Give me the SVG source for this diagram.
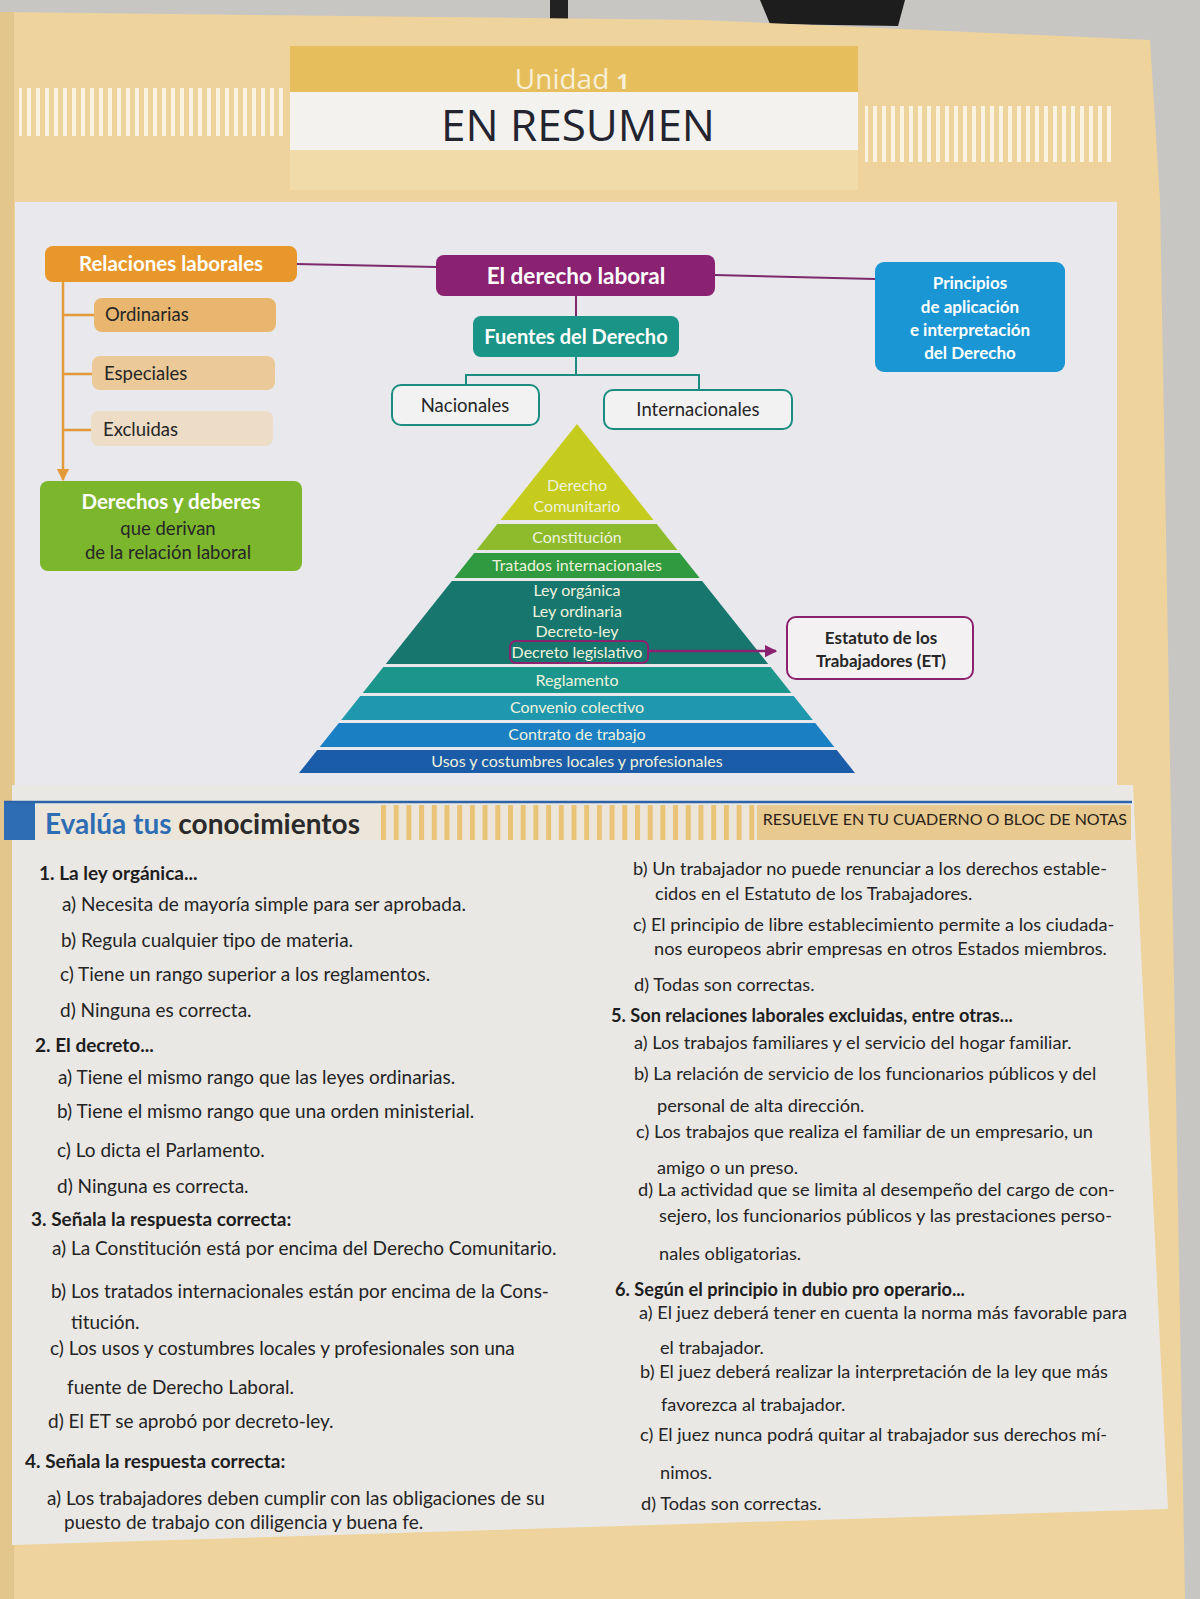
<svg xmlns="http://www.w3.org/2000/svg" width="1200" height="1599" viewBox="0 0 1200 1599">
  <style>
    .box-label { font-family: Lato, "Open Sans", sans-serif; font-weight: 700; fill: #ffffff; text-anchor: middle; }
    .plain { font-family: Lato, "Open Sans", sans-serif; fill: #262626; }
    .pyr { font-family: Lato, "Open Sans", sans-serif; font-size: 16px; fill: #eef2dc; text-anchor: middle; }
    .q { font-family: Lato, "Open Sans", sans-serif; font-size: 19px; fill: #242424; }
    .qh { font-family: Lato, "Open Sans", sans-serif; font-size: 19px; font-weight: 700; fill: #1e1e1e; }
    .qr { font-size: 18.2px; }
    .purple-line { stroke: #7d2a6c; stroke-width: 2; fill: none; }
    .teal-line { stroke: #1a8c80; stroke-width: 2; fill: none; }
    .orange-line { stroke: #e39a3a; stroke-width: 2.5; fill: none; }
  </style>
  <defs>
    <pattern id="whiteBars" width="9" height="10" patternUnits="userSpaceOnUse">
      <rect x="0" y="0" width="4" height="10" fill="#faf3e2"/>
    </pattern>
    <pattern id="goldBars" width="12.7" height="10" patternUnits="userSpaceOnUse">
      <rect x="0" y="0" width="5" height="10" fill="#e9c476"/>
    </pattern>
    <marker id="arrowOrange" viewBox="0 0 10 10" refX="9" refY="5" markerWidth="5" markerHeight="5" orient="auto" markerUnits="strokeWidth">
      <path d="M0,0 L10,5 L0,10 z" fill="#e39a3a"/>
    </marker>
    <marker id="arrowPurple" viewBox="0 0 10 10" refX="9" refY="5" markerWidth="5" markerHeight="6" orient="auto" markerUnits="strokeWidth">
      <path d="M0,0 L10,5 L0,10 z" fill="#8b2270"/>
    </marker>
  </defs>

  <!-- desk behind the page -->
  <rect x="0" y="0" width="1200" height="1599" fill="#c8c6c3"/>
  <rect x="550" y="0" width="18" height="22" fill="#222"/>
  <polygon points="760,0 905,0 898,26 770,24" fill="#1d1d1d"/>

  <!-- page -->
  <polygon points="0,12 700,20 1150,40 1160,200 1185,1599 0,1599" fill="#eed39c"/>
  <rect x="0" y="12" width="14" height="1587" fill="#e2c68c"/>

  <!-- header -->
  <rect x="290" y="46" width="568" height="50" fill="#e6bf5c"/>
  <rect x="290" y="92" width="568" height="58" fill="#f3f2ef"/>
  <rect x="290" y="150" width="568" height="40" fill="#f1dba8"/>
  <rect x="19" y="88" width="264" height="48" fill="url(#whiteBars)"/>
  <rect x="865" y="106" width="246" height="56" fill="url(#whiteBars)"/>
  <text x="572" y="89" font-family="'Open Sans', Lato, sans-serif" font-size="28" fill="#f7efd8" text-anchor="middle">Unidad <tspan font-weight="700" font-size="22">1</tspan></text>
  <text x="578" y="141" font-family="'Open Sans', Lato, sans-serif" font-size="44" fill="#242430" text-anchor="middle">EN RESUMEN</text>

  <!-- content panels -->
  <rect x="15" y="202" width="1102" height="583" fill="#e9e8ec"/>
  <polygon points="12,785 1133,785 1168,1509 12,1545" fill="#eae8e5"/>

  <!-- concept map nodes -->
  <g id="relaciones-laborales">
    <rect x="45" y="246" width="252" height="36" rx="8" fill="#e8972a"/>
    <text class="box-label" x="171" y="271" font-size="20.5">Relaciones laborales</text>
  </g>
  <g id="ordinarias">
    <rect x="94" y="298" width="182" height="34" rx="8" fill="#e8b66e"/>
    <text class="plain" x="105" y="321" font-size="18.5">Ordinarias</text>
  </g>
  <g id="especiales">
    <rect x="92" y="356" width="183" height="34" rx="8" fill="#ebc999"/>
    <text class="plain" x="104" y="380" font-size="18.5">Especiales</text>
  </g>
  <g id="excluidas">
    <rect x="91" y="411" width="182" height="35" rx="8" fill="#eddcc6"/>
    <text class="plain" x="103" y="436" font-size="18.5">Excluidas</text>
  </g>
  <g id="derechos-deberes">
    <rect x="40" y="481" width="262" height="90" rx="8" fill="#7cb62d"/>
    <text class="box-label" x="171" y="509" font-size="20.5">Derechos y deberes</text>
    <text class="plain" x="168" y="535" font-size="18.5" text-anchor="middle" fill="#1f2b1c">que derivan</text>
    <text class="plain" x="168" y="559" font-size="18.5" text-anchor="middle" fill="#1f2b1c">de la relación laboral</text>
  </g>
  <g id="derecho-laboral">
    <rect x="436" y="255" width="279" height="41" rx="8" fill="#8a2171"/>
    <text class="box-label" x="576" y="284" font-size="22.5">El derecho laboral</text>
  </g>
  <g id="principios">
    <rect x="875" y="262" width="190" height="110" rx="9" fill="#1a96d4"/>
    <text class="box-label" x="970" y="289" font-size="17">Principios</text>
    <text class="box-label" x="970" y="313" font-size="17">de aplicación</text>
    <text class="box-label" x="970" y="336" font-size="17">e interpretación</text>
    <text class="box-label" x="970" y="359" font-size="17">del Derecho</text>
  </g>
  <g id="fuentes">
    <rect x="473" y="316" width="206" height="41" rx="8" fill="#1a9486"/>
    <text class="box-label" x="576" y="344" font-size="20">Fuentes del Derecho</text>
  </g>
  <g id="nacionales">
    <rect x="392" y="385" width="147" height="40" rx="9" fill="#f2f2f3" stroke="#1a8c80" stroke-width="2"/>
    <text class="plain" x="465" y="412" font-size="18.5" text-anchor="middle">Nacionales</text>
  </g>
  <g id="internacionales">
    <rect x="604" y="390" width="188" height="39" rx="9" fill="#f2f2f3" stroke="#1a8c80" stroke-width="2"/>
    <text class="plain" x="698" y="416" font-size="18.5" text-anchor="middle">Internacionales</text>
  </g>

  <!-- hierarchy pyramid -->
  <g id="piramide">
    <polygon points="577,424 653.5,520 500.5,520" fill="#c6cc1e"/>
    <polygon points="497.3,524 656.7,524 677.4,550 476.6,550" fill="#8dbb2c"/>
    <polygon points="474.2,553 679.8,553 699.7,578 454.3,578" fill="#2f9a3f"/>
    <polygon points="451.9,581 702.1,581 768.2,664 385.8,664" fill="#17776f"/>
    <polygon points="383.4,667 770.6,667 791.3,693 362.7,693" fill="#1c968d"/>
    <polygon points="360.3,696 793.7,696 812.8,720 341.2,720" fill="#1f98ae"/>
    <polygon points="338.8,723 815.2,723 834.3,747 319.7,747" fill="#1b7fc3"/>
    <polygon points="317.3,750 836.7,750 855,773 299,773" fill="#1a5ca8"/>
    <text class="pyr" x="577" y="491">Derecho</text>
    <text class="pyr" x="577" y="512">Comunitario</text>
    <text class="pyr" x="577" y="543">Constitución</text>
    <text class="pyr" x="577" y="571">Tratados internacionales</text>
    <text class="pyr" x="577" y="596">Ley orgánica</text>
    <text class="pyr" x="577" y="617">Ley ordinaria</text>
    <text class="pyr" x="577" y="637">Decreto-ley</text>
    <rect x="510" y="641" width="138" height="22" rx="6" fill="none" stroke="#8b2270" stroke-width="2"/>
    <text class="pyr" x="577" y="658">Decreto legislativo</text>
    <text class="pyr" x="577" y="686">Reglamento</text>
    <text class="pyr" x="577" y="713">Convenio colectivo</text>
    <text class="pyr" x="577" y="740">Contrato de trabajo</text>
    <text class="pyr" x="577" y="767">Usos y costumbres locales y profesionales</text>
  </g>
  <g id="estatuto">
    <rect x="787" y="617" width="186" height="62" rx="9" fill="#f4f1f3" stroke="#8b2270" stroke-width="2"/>
    <text class="plain" x="881" y="644" font-size="17" font-weight="700" text-anchor="middle">Estatuto de los</text>
    <text class="plain" x="881" y="667" font-size="17" font-weight="700" text-anchor="middle">Trabajadores (ET)</text>
  </g>

  <!-- connectors -->
  <g id="connectors">
    <line class="purple-line" x1="297" y1="264" x2="436" y2="267"/>
    <line class="purple-line" x1="715" y1="275" x2="875" y2="279"/>
    <line class="purple-line" x1="576" y1="296" x2="576" y2="316"/>
    <polyline class="teal-line" points="576,357 576,375"/>
    <polyline class="teal-line" points="466,385 466,375 699,375 699,390"/>
    <line class="orange-line" x1="63" y1="282" x2="63" y2="480" marker-end="url(#arrowOrange)"/>
    <line class="orange-line" x1="63" y1="315" x2="94" y2="315"/>
    <line class="orange-line" x1="63" y1="374" x2="92" y2="374"/>
    <line class="orange-line" x1="63" y1="430" x2="91" y2="430"/>
    <line stroke="#8b2270" stroke-width="2.5" x1="648" y1="651" x2="776" y2="651" marker-end="url(#arrowPurple)"/>
  </g>

  <!-- exercises banner -->
  <g id="banner">
    <rect x="34" y="805" width="1097" height="35" fill="#ece6da"/>
    <rect x="377" y="805" width="380" height="35" fill="url(#goldBars)"/>
    <rect x="757" y="805" width="374" height="35" fill="#e8c98f"/>
    <line x1="4" y1="802" x2="1132" y2="802" stroke="#2f63a8" stroke-width="2.5"/>
    <rect x="4" y="803" width="31" height="37" fill="#2e6db4"/>
    <text x="45" y="834" font-family="Lato, 'Open Sans', sans-serif" font-size="28" font-weight="700" fill="#2e6db4">Evalúa tus <tspan fill="#2a2a2a">conocimientos</tspan></text>
    <text x="1127" y="825" font-family="Lato, 'Open Sans', sans-serif" font-size="16" fill="#2a2218" text-anchor="end">RESUELVE EN TU CUADERNO O BLOC DE NOTAS</text>
  </g>

  <!-- questions, left column -->
  <g id="preguntas-izquierda">
    <text class="qh" x="39" y="880">1.  La ley orgánica...</text>
    <text class="q" x="62" y="911">a) Necesita de mayoría simple para ser aprobada.</text>
    <text class="q" x="61" y="947">b) Regula cualquier tipo de materia.</text>
    <text class="q" x="60" y="981">c) Tiene un rango superior a los reglamentos.</text>
    <text class="q" x="60" y="1017">d) Ninguna es correcta.</text>
    <text class="qh" x="35" y="1052">2.  El decreto...</text>
    <text class="q" x="58" y="1084">a) Tiene el mismo rango que las leyes ordinarias.</text>
    <text class="q" x="57" y="1118">b) Tiene el mismo rango que una orden ministerial.</text>
    <text class="q" x="57" y="1157">c) Lo dicta el Parlamento.</text>
    <text class="q" x="57" y="1193">d) Ninguna es correcta.</text>
    <text class="qh" x="31" y="1226">3.  Señala la respuesta correcta:</text>
    <text class="q" x="52" y="1255">a) La Constitución está por encima del Derecho Comunitario.</text>
    <text class="q" x="51" y="1298">b) Los tratados internacionales están por encima de la Cons-</text>
    <text class="q" x="71" y="1329">titución.</text>
    <text class="q" x="50" y="1355">c) Los usos y costumbres locales y profesionales son una</text>
    <text class="q" x="67" y="1394">fuente de Derecho Laboral.</text>
    <text class="q" x="48" y="1428">d) El ET se aprobó por decreto-ley.</text>
    <text class="qh" x="25" y="1468">4.  Señala la respuesta correcta:</text>
    <text class="q" x="47" y="1505">a) Los trabajadores deben cumplir con las obligaciones de su</text>
    <text class="q" x="64" y="1529">puesto de trabajo con diligencia y buena fe.</text>
  </g>

  <!-- questions, right column -->
  <g id="preguntas-derecha">
    <text class="q qr" x="633" y="875">b) Un trabajador no puede renunciar a los derechos estable-</text>
    <text class="q qr" x="655" y="900">cidos en el Estatuto de los Trabajadores.</text>
    <text class="q qr" x="633" y="931">c) El principio de libre establecimiento permite a los ciudada-</text>
    <text class="q qr" x="654" y="955">nos europeos abrir empresas en otros Estados miembros.</text>
    <text class="q qr" x="634" y="991">d) Todas son correctas.</text>
    <text class="qh qr" x="611" y="1022">5.  Son relaciones laborales excluidas, entre otras...</text>
    <text class="q qr" x="634" y="1049">a) Los trabajos familiares y el servicio del hogar familiar.</text>
    <text class="q qr" x="634" y="1080">b) La relación de servicio de los funcionarios públicos y del</text>
    <text class="q qr" x="657" y="1112">personal de alta dirección.</text>
    <text class="q qr" x="636" y="1138">c) Los trabajos que realiza el familiar de un empresario, un</text>
    <text class="q qr" x="657" y="1174">amigo o un preso.</text>
    <text class="q qr" x="638" y="1196">d) La actividad que se limita al desempeño del cargo de con-</text>
    <text class="q qr" x="659" y="1222">sejero, los funcionarios públicos y las prestaciones perso-</text>
    <text class="q qr" x="659" y="1260">nales obligatorias.</text>
    <text class="qh qr" x="615" y="1296">6.  Según el principio in dubio pro operario...</text>
    <text class="q qr" x="639" y="1319">a) El juez deberá tener en cuenta la norma más favorable para</text>
    <text class="q qr" x="660" y="1354">el trabajador.</text>
    <text class="q qr" x="640" y="1378">b) El juez deberá realizar la interpretación de la ley que más</text>
    <text class="q qr" x="661" y="1411">favorezca al trabajador.</text>
    <text class="q qr" x="640" y="1441">c) El juez nunca podrá quitar al trabajador sus derechos mí-</text>
    <text class="q qr" x="660" y="1479">nimos.</text>
    <text class="q qr" x="641" y="1510">d) Todas son correctas.</text>
  </g>
</svg>
